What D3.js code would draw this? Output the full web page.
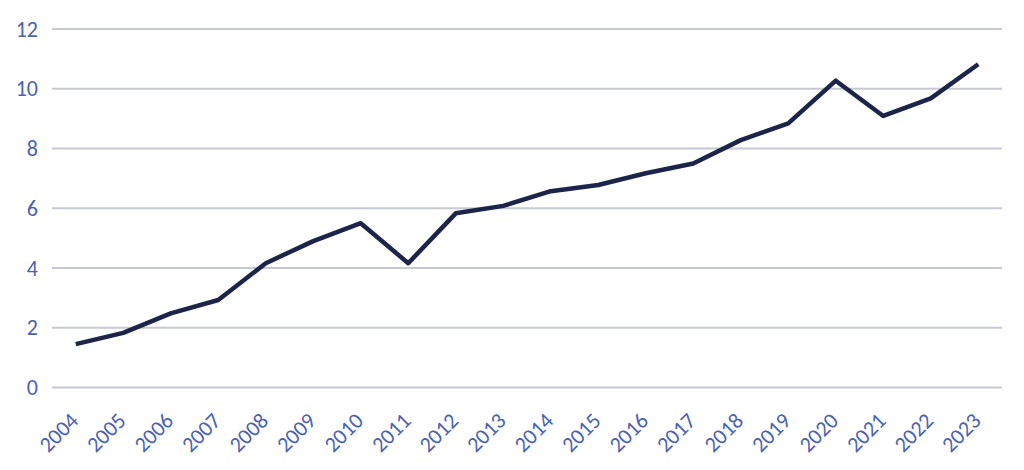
<!DOCTYPE html>
<html>
<head>
<meta charset="utf-8">
<script src="https://cdn.jsdelivr.net/npm/d3@7"></script>
<style>
  body { margin: 0; background: #fff; }
  .tick-label { font-family: Carlito, Lato, "Open Sans", sans-serif; font-size: 22px; fill: #4a62b3; }
</style>
</head>
<body>
<div class="chart"></div>
<script>
'use strict';

var years = ['2004', '2005', '2006', '2007', '2008', '2009', '2010', '2011', '2012', '2013',
             '2014', '2015', '2016', '2017', '2018', '2019', '2020', '2021', '2022', '2023'];
var values = [1.45, 1.83, 2.48, 2.93, 4.16, 4.9, 5.5, 4.16, 5.83, 6.08,
              6.57, 6.78, 7.17, 7.5, 8.28, 8.84, 10.27, 9.09, 9.68, 10.82];
var yTicks = [0, 2, 4, 6, 8, 10, 12];

var width = 1024,
    height = 470,
    margin = { top: 29, right: 22, bottom: 82.5, left: 52 };

var svg = d3.select('.chart').append('svg').attr('width', width).attr('height', height);

var x = d3.scaleBand().domain(years).range([margin.left, width - margin.right]);
var y = d3.scaleLinear().domain([0, 12]).range([height - margin.bottom, margin.top]);

// gridlines
svg.append('g').selectAll('line').data(yTicks).enter().append('line')
  .attr('x1', margin.left).attr('x2', width - margin.right)
  .attr('y1', function (d) { return y(d); }).attr('y2', function (d) { return y(d); })
  .attr('stroke', '#c6c8d6').attr('stroke-width', 2);

// y labels
svg.append('g').selectAll('text').data(yTicks).enter().append('text')
  .attr('class', 'tick-label')
  .attr('x', 38).attr('y', function (d) { return y(d); })
  .attr('dy', '0.35em').attr('text-anchor', 'end')
  .text(function (d) { return d; });

// x labels, rotated
svg.append('g').selectAll('text').data(years).enter().append('text')
  .attr('class', 'tick-label')
  .attr('text-anchor', 'end')
  .attr('transform', function (d) {
    return 'translate(' + (x(d) + x.bandwidth() / 2 + 4) + ',' + 422 + ') rotate(-45)';
  })
  .text(function (d) { return d; });

var line = d3.line()
  .x(function (d, i) { return x(years[i]) + x.bandwidth() / 2; })
  .y(function (d) { return y(d); });

svg.append('path').datum(values)
  .attr('d', line)
  .attr('fill', 'none')
  .attr('stroke', '#1c2449')
  .attr('stroke-width', 4.5)
  .attr('stroke-linejoin', 'round');
</script>
</body>
</html>
